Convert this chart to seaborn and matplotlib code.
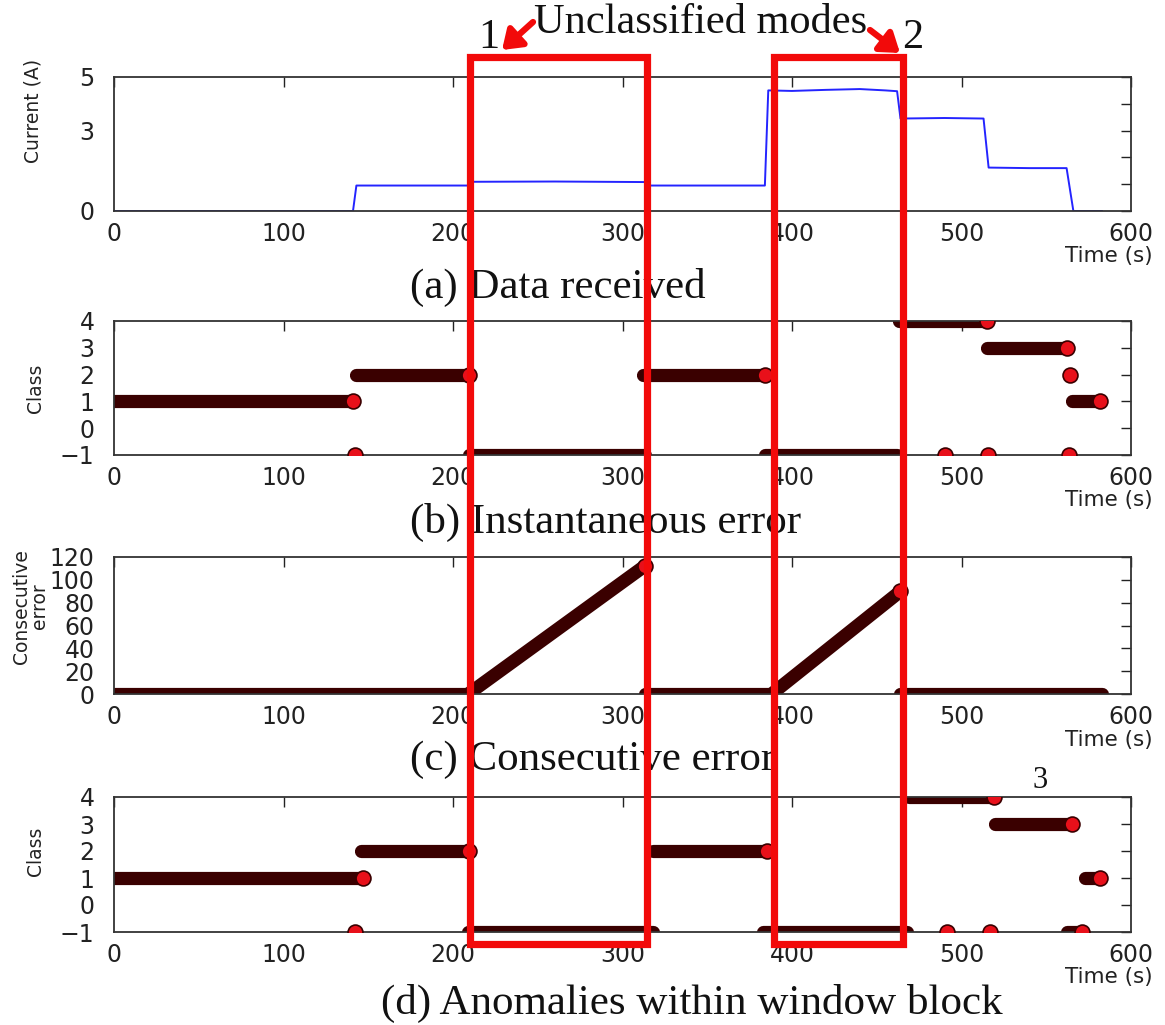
import numpy as np
import pandas as pd
import matplotlib
matplotlib.use("Agg")
import matplotlib.pyplot as plt
import seaborn as sns
from matplotlib.patches import Rectangle, FancyArrowPatch
from matplotlib.transforms import blended_transform_factory

# ---------------- data ----------------
# (a) measured current (step levels with small wiggles)
cur_time = [0, 141, 143, 209, 211, 260, 313, 315, 384, 386, 400, 420, 440, 455, 462, 464, 490, 513, 516, 540, 562, 566, 583]
cur_amp = [0.0, 0.0, 0.95, 0.95, 1.09, 1.1, 1.08, 0.95, 0.95, 4.5, 4.48, 4.52, 4.55, 4.5, 4.47, 3.45, 3.47, 3.45, 1.62, 1.6, 1.6, 0.0, 0.0]

# (b) instantaneous class: runs of samples (start time, end time, class)
inst_start = [0, 143, 209.5, 312, 384, 463, 515, 565]
inst_end = [141, 209.5, 313, 384, 462, 515, 562, 582]
inst_class = [1, 2, -1, 2, -1, 4, 3, 1]
inst_pt_t = [142, 490, 515.5, 563.5, 564]
inst_pt_c = [-1, -1, -1, -1, 2]

# (c) consecutive error: runs (start time, end time, start value, end value)
cons_t0 = [0, 209, 313, 388, 464]
cons_t1 = [209, 313, 388, 464, 583]
cons_v0 = [0, 0, 0, 0, 0]
cons_v1 = [0, 112, 0, 90, 0]

# (d) anomalies within window block: runs (start, end, class)
win_start = [0, 146, 209, 318, 383, 469, 520, 562, 573]
win_end = [147, 209.5, 318, 385, 468, 519, 565, 571, 582]
win_class = [1, 2, -1, 2, -1, 4, 3, -1, 1]
win_pt_t = [142, 491.5, 517]
win_pt_c = [-1, -1, -1]

# unclassified-mode boxes (time range)
box_t0 = [210, 389.5]
box_t1 = [314.5, 465.5]

captions = ["(a) Data received", "(b) Instantaneous error",
            "(c) Consecutive error", "(d) Anomalies within window block"]

# ---------------- style ----------------
sns.set_style("white")
plt.rcParams["font.family"] = ["DejaVu Sans"]
plt.rcParams["axes.unicode_minus"] = True

DARK = "#3a0000"
RED_PT = "#e8101a"
BOX_RED = "#f20a0a"
TXT = "#222222"

fig = plt.figure(figsize=(11.65, 10.25), dpi=100)
W, H = 1165.0, 1025.0
L = 114 / W
AW = 1017 / W
rects = [(77, 211), (321, 455), (557, 694), (797, 932)]
axes = []
for top, bot in rects:
    ax = fig.add_axes([L, 1 - bot / H, AW, (bot - top) / H])
    axes.append(ax)

def style_axis(ax, ylim, yticks, yticklabels=None):
    ax.set_xlim(0, 600)
    ax.set_ylim(*ylim)
    ax.set_xticks([0, 100, 200, 300, 400, 500, 600])
    ax.set_yticks(yticks)
    if yticklabels is not None:
        ax.set_yticklabels(yticklabels)
    ax.tick_params(axis="both", direction="in", length=7, width=1,
                   top=True, right=True, labelsize=17, colors=TXT)
    ax.tick_params(axis="x", pad=8)
    ax.tick_params(axis="y", pad=14)
    for sp in ax.spines.values():
        sp.set_visible(True)
        sp.set_color("#333333")
        sp.set_linewidth(1.3)
    ax.set_xlabel("")
    ax.text(1.0216, -0.335, "Time (s)", transform=ax.transAxes, ha="right",
            va="center", fontsize=15.5, color=TXT)

def draw_runs(ax, t0, t1, v0, v1, red_end):
    rows = []
    for i, (a, b, c, d) in enumerate(zip(t0, t1, v0, v1)):
        rows.append({"seg": i, "t": a, "v": c})
        rows.append({"seg": i, "t": b, "v": d})
    df = pd.DataFrame(rows)
    sns.lineplot(data=df, x="t", y="v", units="seg", estimator=None, sort=False,
                 color=DARK, lw=9.5, solid_capstyle="round", ax=ax, legend=False)
    ends = pd.DataFrame({"t": [b for b, r in zip(t1, red_end) if r],
                         "v": [d for d, r in zip(v1, red_end) if r]})
    sns.scatterplot(data=ends, x="t", y="v", s=115, color=RED_PT,
                    edgecolor=DARK, linewidth=1.2, ax=ax, legend=False, zorder=4)

# (a)
ax = axes[0]
dfa = pd.DataFrame({"t": cur_time, "amp": cur_amp})
sns.lineplot(data=dfa, x="t", y="amp", color="#2424ff", lw=1.4, ax=ax, estimator=None)
style_axis(ax, (0, 5), [0, 1, 2, 3, 4, 5], ["0", "", "", "3", "", "5"])
ax.set_ylabel("Current (A)", fontsize=13.5, color=TXT)
ax.yaxis.set_label_coords(-0.070, 0.75)

# (b)
ax = axes[1]
draw_runs(ax, inst_start, inst_end, inst_class, inst_class,
          [c >= 1 for c in inst_class])
sns.scatterplot(x=inst_pt_t, y=inst_pt_c, s=115, color=RED_PT, edgecolor=DARK,
                linewidth=1.2, ax=ax, legend=False, zorder=4)
style_axis(ax, (-1, 4), [-1, 0, 1, 2, 3, 4])
ax.set_ylabel("Class", fontsize=13.5, color=TXT)
ax.yaxis.set_label_coords(-0.068, 0.5)

# (c)
ax = axes[2]
draw_runs(ax, cons_t0, cons_t1, cons_v0, cons_v1, [v > 0 for v in cons_v1])
style_axis(ax, (0, 120), [0, 20, 40, 60, 80, 100, 120])
ax.set_ylabel("Consecutive\nerror", fontsize=13.5, color=TXT, linespacing=0.9)
ax.yaxis.set_label_coords(-0.064, 0.64)

# (d)
ax = axes[3]
draw_runs(ax, win_start, win_end, win_class, win_class,
          [True if c >= 1 else (i == 7) for i, c in enumerate(win_class)])
sns.scatterplot(x=win_pt_t, y=win_pt_c, s=115, color=RED_PT, edgecolor=DARK,
                linewidth=1.2, ax=ax, legend=False, zorder=4)
style_axis(ax, (-1, 4), [-1, 0, 1, 2, 3, 4])
ax.set_ylabel("Class", fontsize=13.5, color=TXT)
ax.yaxis.set_label_coords(-0.068, 0.6)

# captions
cap_pos = [(410, 287), (410, 522), (410, 760), (381, 1003)]
for txt, (x, y) in zip(captions, cap_pos):
    fig.text(x / W, 1 - y / H, txt, family="Liberation Serif", fontsize=31,
             ha="left", va="center", color="#111111")

# red boxes
tr = blended_transform_factory(axes[0].transData, fig.transFigure)
ytop, ybot = 1 - 57 / H, 1 - 944 / H
for a, b in zip(box_t0, box_t1):
    r = Rectangle((a, ybot), b - a, ytop - ybot, transform=tr, fill=False,
                  edgecolor=BOX_RED, lw=5.2, joinstyle="miter", clip_on=False, zorder=10)
    fig.add_artist(r)

# annotation texts / arrows
fig.text(701 / W, 1 - 23 / H, "Unclassified modes", family="Liberation Serif",
         fontsize=30.5, ha="center", va="center", color="#111111")
fig.text(489 / W, 1 - 38 / H, "1", family="Liberation Serif", fontsize=30.5,
         ha="center", va="center", color="#111111")
fig.text(913 / W, 1 - 38 / H, "2", family="Liberation Serif", fontsize=30.5,
         ha="center", va="center", color="#111111")
fig.text(1040 / W, 1 - 780 / H, "3", family="Liberation Serif", fontsize=22,
         ha="center", va="center", color="#111111")
arrow_kw = dict(arrowstyle="-|>,head_length=0.5,head_width=0.35", color=BOX_RED,
                lw=4.5, mutation_scale=22, shrinkA=0, shrinkB=0)
fig.add_artist(FancyArrowPatch(
    (533 / W, 1 - 22 / H), (502 / W, 1 - 50 / H), transform=fig.transFigure, **arrow_kw))
fig.add_artist(FancyArrowPatch(
    (870 / W, 1 - 30 / H), (900 / W, 1 - 53 / H), transform=fig.transFigure, **arrow_kw))

fig.savefig("out.png", dpi=100)
